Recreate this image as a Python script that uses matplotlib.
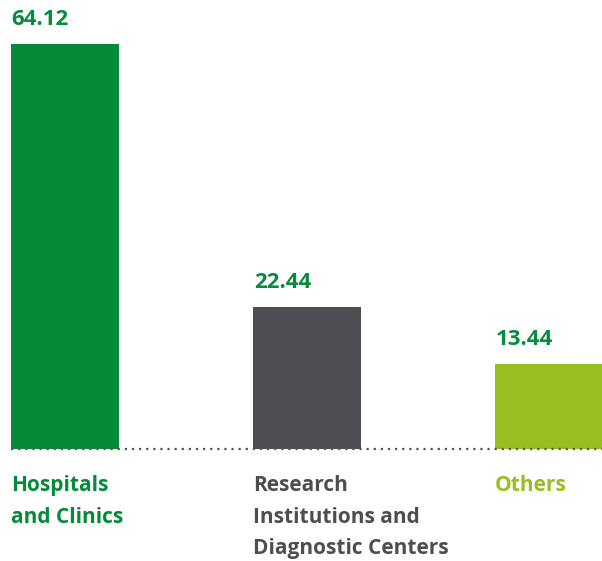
import matplotlib
matplotlib.use("Agg")
import matplotlib.pyplot as plt

categories = ["Hospitals\nand Clinics", "Research\nInstitutions and\nDiagnostic Centers", "Others"]
values = [64.12, 22.44, 13.44]
value_labels = ["64.12", "22.44", "13.44"]

bar_colors = ["#058A37", "#4E4D51", "#97BF20"]
label_colors = ["#058A37", "#4E4D51", "#97BF20"]
value_color = "#0A8A3C"

fig = plt.figure(figsize=(6.02, 5.61), dpi=100)
ax = fig.add_axes([11/602, 112/561, 591/602, 405/561])
width = 108/242
x = list(range(len(categories)))
ax.bar(x, values, width=width, color=bar_colors, align="center")
ax.set_xlim(-width/2, 2 + 53/242)
ax.set_ylim(0, max(values))
for s in ax.spines.values():
    s.set_visible(False)
ax.set_xticks([]); ax.set_yticks([])
ax.axhline(0, color="#555555", linestyle=(0, (1, 2.2)), lw=1.6, clip_on=False)

for i, (v, lab) in enumerate(zip(values, value_labels)):
    ax.annotate(lab, (i - width/2, v), xytext=(0.5, 10), textcoords="offset points",
                ha="left", va="bottom", fontsize=16, fontweight="bold",
                family="Open Sans", color=value_color, annotation_clip=False)
for i, cat in enumerate(categories):
    ax.annotate(cat, (i - width/2, 0), xytext=(0, -18.5), textcoords="offset points",
                ha="left", va="top", fontsize=15, fontweight="bold",
                family="Open Sans", color=label_colors[i], linespacing=1.68,
                annotation_clip=False)

fig.savefig("out.png", dpi=100)
